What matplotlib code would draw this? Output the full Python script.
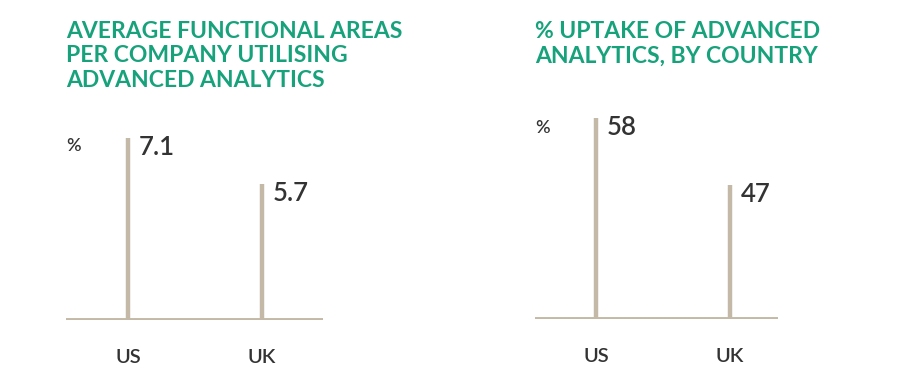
import numpy as np
import matplotlib
matplotlib.use("Agg")
import matplotlib.pyplot as plt

plt.rcParams["font.family"] = ["Lato", "DejaVu Sans"]

# data
countries = ["US", "UK"]
areas_values = [7.1, 5.7]
areas_labels = ["7.1", "5.7"]
uptake_values = [58, 47]
uptake_labels = ["58", "47"]

title_left = "AVERAGE FUNCTIONAL AREAS\nPER COMPANY UTILISING\nADVANCED ANALYTICS"
title_right = "% UPTAKE OF ADVANCED\nANALYTICS, BY COUNTRY"

green = "#17a27b"
stem_color = "#c3b9a6"
text_color = "#333333"

fig = plt.figure(figsize=(9, 3.76), dpi=100)


def draw_panel(rect, values, labels, ylim, xlim, unit_y):
    ax = fig.add_axes(rect)
    x = np.arange(len(values))
    ax.vlines(x, ylim[0], values, color=stem_color, linewidth=3.2, zorder=2)
    ax.axhline(ylim[0], color=stem_color, linewidth=2.8, zorder=1)
    for xi, v, lab in zip(x, values, labels):
        ax.annotate(lab, (xi, v), xytext=(7.5, 2), textcoords="offset points",
                    ha="left", va="top", fontsize=18.5, fontweight="semibold",
                    color=text_color)
    ax.set_xlim(*xlim)
    ax.set_ylim(*ylim)
    ax.set_xticks(x)
    ax.set_xticklabels(countries, fontsize=14.5, fontweight="semibold",
                       color=text_color)
    ax.tick_params(length=0, pad=21)
    ax.set_yticks([])
    for s in ax.spines.values():
        s.set_visible(False)
    ax.text(0.0, unit_y, "%", transform=ax.transAxes, ha="left", va="center",
            fontsize=13, fontweight="semibold", color=text_color)
    return ax


# left panel: baseline y=320px, axes top y=100px
draw_panel([66 / 900, 1 - 320 / 376, 257 / 900, 220 / 376],
           areas_values, areas_labels, (1.56, 8.25), (-0.463, 1.455), 0.79)
draw_panel([535 / 900, 1 - 319 / 376, 243 / 900, 219 / 376],
           uptake_values, uptake_labels, (24.9, 60.9), (-0.455, 1.358), 0.87)

fig.text(66 / 900, 1 - 21 / 376, title_left, ha="left", va="top", fontsize=16.5,
         fontweight="bold", color=green, linespacing=1.2)
fig.text(535 / 900, 1 - 21 / 376, title_right, ha="left", va="top", fontsize=16.5,
         fontweight="bold", color=green, linespacing=1.2)

fig.savefig("out.png", dpi=100, facecolor="white")
